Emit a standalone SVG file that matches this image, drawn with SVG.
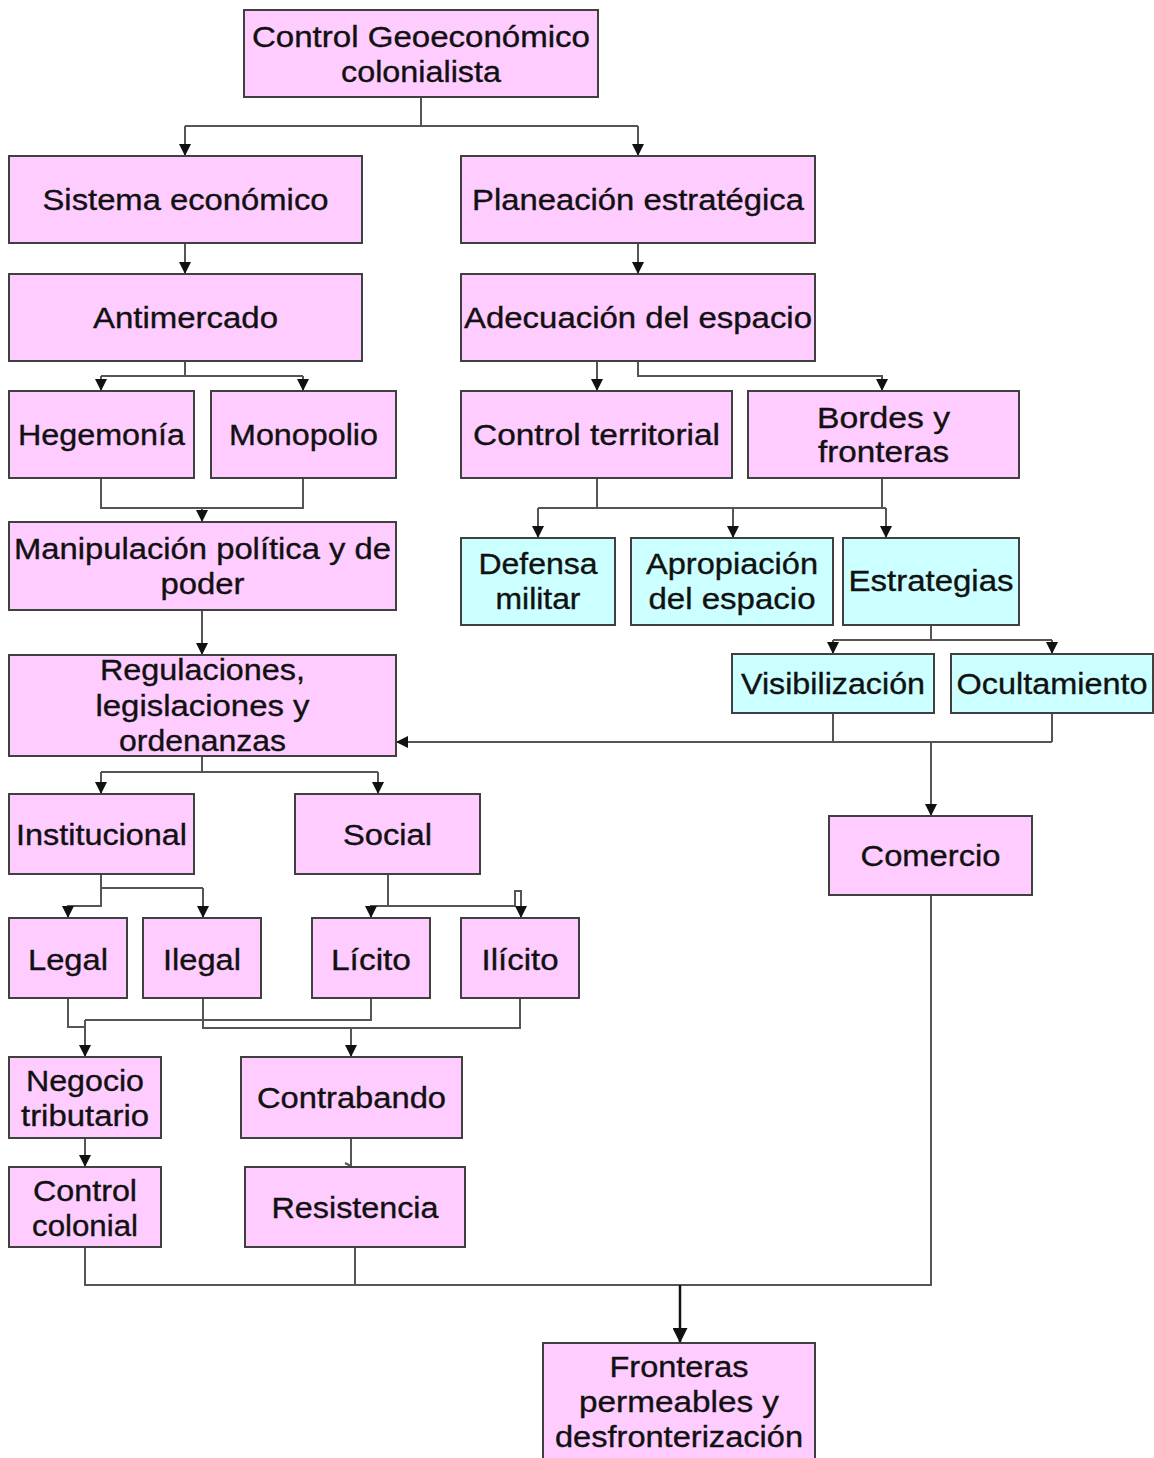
<svg xmlns="http://www.w3.org/2000/svg" width="1154" height="1458" viewBox="0 0 1154 1458">
<style>
.p{fill:#FFCCFF;stroke:#404040;stroke-width:2}
.c{fill:#CCFFFF;stroke:#404040;stroke-width:2}
text{font-family:"Liberation Sans",Arial,sans-serif;font-size:29px;fill:#111;stroke:#111;stroke-width:0.35;text-anchor:middle}
.ln{fill:none;stroke:#555;stroke-width:2}
.ar{fill:none;stroke:#555;stroke-width:2;marker-end:url(#ah)}
</style>
<defs>
<marker id="ah" viewBox="0 0 10 10" refX="10" refY="5" markerWidth="6" markerHeight="6" orient="auto" markerUnits="strokeWidth">
<path d="M0,0 L10,5 L0,10 z" fill="#111"/>
</marker>
</defs>
<rect width="1154" height="1458" fill="#fff"/>
<g id="connectors">
<path class="ln" d="M421,97 V126 M185,126 H638"/>
<path class="ar" d="M185,126 V156"/>
<path class="ar" d="M638,126 V156"/>
<path class="ar" d="M185,243 V274"/>
<path class="ar" d="M638,243 V274"/>
<path class="ln" d="M185,361 V376 M101,376 H303"/>
<path class="ar" d="M101,376 V391"/>
<path class="ar" d="M303,376 V391"/>
<path class="ar" d="M597,361 V391"/>
<path class="ar" d="M638,361 V376 H882 V391"/>
<path class="ln" d="M101,478 V508 H303 V478"/>
<path class="ar" d="M202,508 V522"/>
<path class="ar" d="M202,610 V655"/>
<path class="ln" d="M597,478 V508 M538,508 H886 M882,478 V508"/>
<path class="ar" d="M538,508 V538"/>
<path class="ar" d="M733,508 V538"/>
<path class="ar" d="M886,508 V538"/>
<path class="ln" d="M931,625 V640 M833,640 H1052"/>
<path class="ar" d="M833,640 V654"/>
<path class="ar" d="M1052,640 V654"/>
<path class="ln" d="M833,713 V742 M1052,713 V742"/>
<path class="ar" d="M1052,742 H396"/>
<path class="ar" d="M931,742 V816"/>
<path class="ln" d="M202,756 V772 M101,772 H378"/>
<path class="ar" d="M101,772 V794"/>
<path class="ar" d="M378,772 V794"/>
<path class="ln" d="M101,874 V888 H203"/>
<path class="ar" d="M203,888 V918"/>
<path class="ar" d="M101,888 V906 H68 V918"/>
<path class="ln" d="M388,874 V906 H515 V891 H521 V900"/>
<path class="ar" d="M388,906 H371 V918"/>
<path class="ar" d="M521,900 V918"/>
<path class="ln" d="M68,998 V1027 H85 M371,998 V1020 H85"/>
<path class="ar" d="M85,1020 V1057"/>
<path class="ln" d="M203,998 V1028 H520 V998"/>
<path class="ar" d="M351,1028 V1057"/>
<path class="ar" d="M85,1138 V1167"/>
<path class="ln" d="M351,1138 V1166 M345,1163 L351,1166"/>
<path class="ln" d="M85,1247 V1285 H931 V895 M355,1247 V1285"/>
<path d="M680,1285 V1343" fill="none" stroke="#111" stroke-width="2.5" marker-end="url(#ah)"/>
</g>
<g id="n-control-geo"><rect class="p" x="244" y="10" width="354" height="87"/><text x="421" y="47" textLength="338" lengthAdjust="spacingAndGlyphs">Control Geoeconómico</text><text x="421" y="82" textLength="160" lengthAdjust="spacingAndGlyphs">colonialista</text></g>
<g id="n-sistema"><rect class="p" x="9" y="156" width="353" height="87"/><text x="185.5" y="210" textLength="286" lengthAdjust="spacingAndGlyphs">Sistema económico</text></g>
<g id="n-planeacion"><rect class="p" x="461" y="156" width="354" height="87"/><text x="638" y="210" textLength="332" lengthAdjust="spacingAndGlyphs">Planeación estratégica</text></g>
<g id="n-antimercado"><rect class="p" x="9" y="274" width="353" height="87"/><text x="185.5" y="328" textLength="185" lengthAdjust="spacingAndGlyphs">Antimercado</text></g>
<g id="n-adecuacion"><rect class="p" x="461" y="274" width="354" height="87"/><text x="638" y="328" textLength="348" lengthAdjust="spacingAndGlyphs">Adecuación del espacio</text></g>
<g id="n-hegemonia"><rect class="p" x="9" y="391" width="185" height="87"/><text x="101.5" y="445" textLength="167" lengthAdjust="spacingAndGlyphs">Hegemonía</text></g>
<g id="n-monopolio"><rect class="p" x="211" y="391" width="185" height="87"/><text x="303.5" y="445" textLength="149" lengthAdjust="spacingAndGlyphs">Monopolio</text></g>
<g id="n-control-terr"><rect class="p" x="461" y="391" width="271" height="87"/><text x="596.5" y="445" textLength="247" lengthAdjust="spacingAndGlyphs">Control territorial</text></g>
<g id="n-bordes"><rect class="p" x="748" y="391" width="271" height="87"/><text x="883.5" y="428" textLength="133" lengthAdjust="spacingAndGlyphs">Bordes y</text><text x="883.5" y="462" textLength="131" lengthAdjust="spacingAndGlyphs">fronteras</text></g>
<g id="n-manipulacion"><rect class="p" x="9" y="522" width="387" height="88"/><text x="202.5" y="559" textLength="377" lengthAdjust="spacingAndGlyphs">Manipulación política y de</text><text x="202.5" y="594" textLength="84" lengthAdjust="spacingAndGlyphs">poder</text></g>
<g id="n-defensa"><rect class="c" x="461" y="538" width="154" height="87"/><text x="538" y="574" textLength="119" lengthAdjust="spacingAndGlyphs">Defensa</text><text x="538" y="609" textLength="85" lengthAdjust="spacingAndGlyphs">militar</text></g>
<g id="n-apropiacion"><rect class="c" x="631" y="538" width="202" height="87"/><text x="732" y="574" textLength="172" lengthAdjust="spacingAndGlyphs">Apropiación</text><text x="732" y="609" textLength="167" lengthAdjust="spacingAndGlyphs">del espacio</text></g>
<g id="n-estrategias"><rect class="c" x="843" y="538" width="176" height="87"/><text x="931" y="591" textLength="165" lengthAdjust="spacingAndGlyphs">Estrategias</text></g>
<g id="n-regulaciones"><rect class="p" x="9" y="655" width="387" height="101"/><text x="202.5" y="680" textLength="205" lengthAdjust="spacingAndGlyphs">Regulaciones,</text><text x="202.5" y="716" textLength="214" lengthAdjust="spacingAndGlyphs">legislaciones y</text><text x="202.5" y="751" textLength="167" lengthAdjust="spacingAndGlyphs">ordenanzas</text></g>
<g id="n-visibilizacion"><rect class="c" x="732" y="654" width="202" height="59"/><text x="833" y="694" textLength="184" lengthAdjust="spacingAndGlyphs">Visibilización</text></g>
<g id="n-ocultamiento"><rect class="c" x="951" y="654" width="202" height="59"/><text x="1052" y="694" textLength="191" lengthAdjust="spacingAndGlyphs">Ocultamiento</text></g>
<g id="n-institucional"><rect class="p" x="9" y="794" width="185" height="80"/><text x="101.5" y="845" textLength="171" lengthAdjust="spacingAndGlyphs">Institucional</text></g>
<g id="n-social"><rect class="p" x="295" y="794" width="185" height="80"/><text x="387.5" y="845" textLength="89" lengthAdjust="spacingAndGlyphs">Social</text></g>
<g id="n-comercio"><rect class="p" x="829" y="816" width="203" height="79"/><text x="930.5" y="866" textLength="140" lengthAdjust="spacingAndGlyphs">Comercio</text></g>
<g id="n-legal"><rect class="p" x="9" y="918" width="118" height="80"/><text x="68" y="970" textLength="80" lengthAdjust="spacingAndGlyphs">Legal</text></g>
<g id="n-ilegal"><rect class="p" x="143" y="918" width="118" height="80"/><text x="202" y="970" textLength="78" lengthAdjust="spacingAndGlyphs">Ilegal</text></g>
<g id="n-licito"><rect class="p" x="312" y="918" width="118" height="80"/><text x="371" y="970" textLength="80" lengthAdjust="spacingAndGlyphs">Lícito</text></g>
<g id="n-ilicito"><rect class="p" x="461" y="918" width="118" height="80"/><text x="520" y="970" textLength="77" lengthAdjust="spacingAndGlyphs">Ilícito</text></g>
<g id="n-negocio"><rect class="p" x="9" y="1057" width="152" height="81"/><text x="85" y="1091" textLength="118" lengthAdjust="spacingAndGlyphs">Negocio</text><text x="85" y="1126" textLength="128" lengthAdjust="spacingAndGlyphs">tributario</text></g>
<g id="n-contrabando"><rect class="p" x="241" y="1057" width="221" height="81"/><text x="351.5" y="1108" textLength="189" lengthAdjust="spacingAndGlyphs">Contrabando</text></g>
<g id="n-control-colonial"><rect class="p" x="9" y="1167" width="152" height="80"/><text x="85" y="1201" textLength="104" lengthAdjust="spacingAndGlyphs">Control</text><text x="85" y="1236" textLength="106" lengthAdjust="spacingAndGlyphs">colonial</text></g>
<g id="n-resistencia"><rect class="p" x="245" y="1167" width="220" height="80"/><text x="355" y="1218" textLength="167" lengthAdjust="spacingAndGlyphs">Resistencia</text></g>
<g id="n-fronteras"><rect class="p" x="543" y="1343" width="272" height="116"/><text x="679" y="1377" textLength="139" lengthAdjust="spacingAndGlyphs">Fronteras</text><text x="679" y="1412" textLength="200" lengthAdjust="spacingAndGlyphs">permeables y</text><text x="679" y="1447" textLength="248" lengthAdjust="spacingAndGlyphs">desfronterización</text></g>
</svg>
